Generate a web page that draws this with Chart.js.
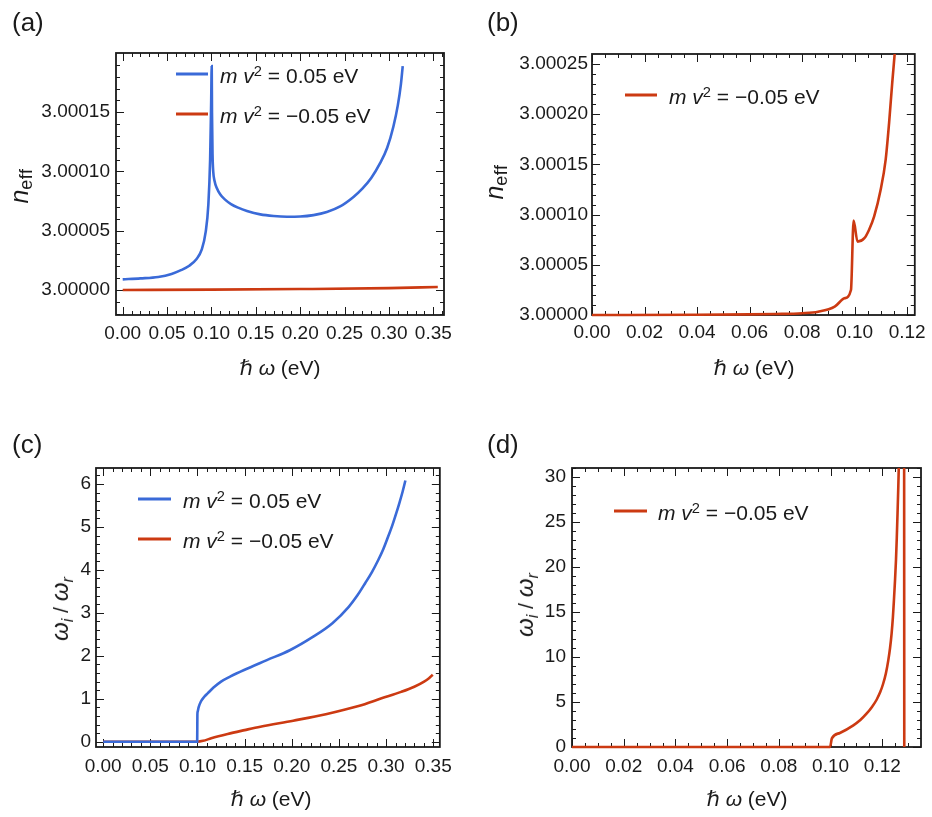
<!DOCTYPE html>
<html>
<head>
<meta charset="utf-8">
<script src="https://cdn.jsdelivr.net/npm/chart.js@4.4.1/dist/chart.umd.min.js"></script>
<style>
    body { margin: 0; background: #fff; }
    #fig { position: relative; width: 932px; height: 817px; overflow: hidden;
           font-family: "Liberation Sans", Arial, sans-serif; color: #1a1a1a; }
    #fig canvas { position: absolute; }
    .tag { position: absolute; font-size: 26px; line-height: 1; }
    .xt, .yt { position: absolute; font-size: 21px; line-height: 1; white-space: nowrap; }
    .xt { transform: translate(-50%, -50%); }
    .yt { transform: translate(-50%, -50%) rotate(-90deg); }
    .leg { position: absolute; font-size: 21px; line-height: 1; white-space: nowrap; transform: translateY(-50%); }
    .sw { position: absolute; height: 3px; transform: translateY(-50%); }
    .it { font-style: italic; }
    .sup { position: relative; top: -0.45em; font-size: 0.7em; }
    .sub { position: relative; top: 0.3em; font-size: 0.68em; }
    .hb { font-family: "DejaVu Sans", "Liberation Sans", sans-serif; font-style: italic; }
    .ne { font-style: italic; font-size: 25px; }
    .ef { position: relative; top: 0.22em; font-size: 18px; letter-spacing: 0.5px; }
    .om { font-style: italic; font-size: 24px; }
    .oi { position: relative; top: 0.3em; font-size: 16px; font-style: italic; }
</style>
</head>
<body>
<div id="fig">
    <canvas id="ca"></canvas>
    <canvas id="cb"></canvas>
    <canvas id="cc"></canvas>
    <canvas id="cd"></canvas>

    <div class="tag" style="left:12px;top:9px">(a)</div>
    <div class="tag" style="left:487px;top:9px">(b)</div>
    <div class="tag" style="left:12px;top:431px">(c)</div>
    <div class="tag" style="left:487px;top:431px">(d)</div>

    <!-- axis titles -->
    <div class="xt" style="left:280px;top:368px"><span class="hb">ℏ</span> <span class="it">ω</span> (eV)</div>
    <div class="xt" style="left:754px;top:368px"><span class="hb">ℏ</span> <span class="it">ω</span> (eV)</div>
    <div class="xt" style="left:271px;top:799px"><span class="hb">ℏ</span> <span class="it">ω</span> (eV)</div>
    <div class="xt" style="left:747px;top:799px"><span class="hb">ℏ</span> <span class="it">ω</span> (eV)</div>

    <div class="yt" style="left:19px;top:186px"><span class="ne">n</span><span class="ef">eff</span></div>
    <div class="yt" style="left:494px;top:182px"><span class="ne">n</span><span class="ef">eff</span></div>
    <div class="yt" style="left:60px;top:609px"><span class="om">ω</span><span class="oi">i</span> / <span class="om">ω</span><span class="oi">r</span></div>
    <div class="yt" style="left:525px;top:605px"><span class="om">ω</span><span class="oi">i</span> / <span class="om">ω</span><span class="oi">r</span></div>

    <!-- legends -->
    <div class="sw" style="left:176px;top:74px;width:32px;background:#3a6ad8"></div>
    <div class="leg" style="left:220px;top:75px"><span class="it">m</span> <span class="it">v</span><span class="sup">2</span> = 0.05 eV</div>
    <div class="sw" style="left:176px;top:114px;width:32px;background:#cc3a12"></div>
    <div class="leg" style="left:220px;top:115px"><span class="it">m</span> <span class="it">v</span><span class="sup">2</span> = −0.05 eV</div>

    <div class="sw" style="left:625px;top:95px;width:32px;background:#cc3a12"></div>
    <div class="leg" style="left:669px;top:96px"><span class="it">m</span> <span class="it">v</span><span class="sup">2</span> = −0.05 eV</div>

    <div class="sw" style="left:138px;top:499px;width:33px;background:#3a6ad8"></div>
    <div class="leg" style="left:183px;top:500px"><span class="it">m</span> <span class="it">v</span><span class="sup">2</span> = 0.05 eV</div>
    <div class="sw" style="left:138px;top:539px;width:33px;background:#cc3a12"></div>
    <div class="leg" style="left:183px;top:540px"><span class="it">m</span> <span class="it">v</span><span class="sup">2</span> = −0.05 eV</div>

    <div class="sw" style="left:614px;top:511px;width:33px;background:#cc3a12"></div>
    <div class="leg" style="left:658px;top:512px"><span class="it">m</span> <span class="it">v</span><span class="sup">2</span> = −0.05 eV</div>
</div>

<script>
const BLUE = '#3a6ad8';
const RED = '#cc3a12';
const INK = '#1a1a1a';
const FONT = '"Liberation Sans", Arial, sans-serif';

// (a) n_eff vs ħω
const aXTicks = [0, 0.05, 0.10, 0.15, 0.20, 0.25, 0.30, 0.35];
const aYTicks = [3.00000, 3.00005, 3.00010, 3.00015];
const aBlueX = [0, 0.02, 0.04, 0.055, 0.065, 0.075, 0.083, 0.089, 0.0935, 0.0965, 0.0985, 0.0997, 0.1003,
                0.1006, 0.1012, 0.102, 0.1035, 0.106, 0.110, 0.115, 0.122, 0.130, 0.140, 0.155, 0.170,
                0.185, 0.200, 0.215, 0.230, 0.245, 0.260, 0.270, 0.280, 0.290, 0.298, 0.305, 0.310,
                0.3135, 0.3155];
const aBlueY = [3.0000090, 3.0000098, 3.0000110, 3.0000135, 3.0000165, 3.0000205, 3.0000260,
                3.0000340, 3.0000490, 3.0000720, 3.0001100, 3.0001600, 3.0001890,
                3.0001500, 3.0001150, 3.0001000, 3.0000920, 3.0000860, 3.0000805, 3.0000765,
                3.0000725, 3.0000695, 3.0000667, 3.0000638, 3.0000624, 3.0000618, 3.0000620,
                3.0000632, 3.0000658, 3.0000705, 3.0000785, 3.0000855, 3.0000945, 3.0001070,
                3.0001200, 3.0001380, 3.0001560, 3.0001740, 3.0001890];
const aRedX = [0, 0.10, 0.20, 0.30, 0.355];
const aRedY = [3.0000000, 3.0000003, 3.0000008, 3.0000016, 3.0000025];

// (b) n_eff, m v^2 = -0.05 eV, close-up
const bXTicks = [0, 0.02, 0.04, 0.06, 0.08, 0.10, 0.12];
const bYTicks = [3.00000, 3.00005, 3.00010, 3.00015, 3.00020, 3.00025];
const bRedX = [0, 0.04, 0.06, 0.07, 0.08, 0.0861, 0.0924, 0.0961, 0.0986, 0.0996, 0.1011,
               0.1037, 0.1055, 0.1074, 0.1099, 0.1118, 0.1131, 0.1143, 0.1153];
const bRedY = [3.0000000, 3.0000002, 3.0000006, 3.0000010, 3.0000018, 3.0000033, 3.0000083,
               3.0000166, 3.0000249, 3.0000940, 3.0000731, 3.0000765, 3.0000850, 3.0000980,
               3.0001247, 3.0001546, 3.0001910, 3.0002310, 3.0002620];

// (c) ω_i / ω_r
const cXTicks = [0, 0.05, 0.10, 0.15, 0.20, 0.25, 0.30, 0.35];
const cYTicks = [0, 1, 2, 3, 4, 5, 6];
const cBlueX = [0, 0.0997, 0.0999, 0.1002, 0.1012, 0.1035, 0.107, 0.111, 0.117, 0.125, 0.135,
                0.1494, 0.1736, 0.1979, 0.2223, 0.2431, 0.2604, 0.270, 0.2778, 0.285, 0.2917,
                0.297, 0.3021, 0.3065, 0.3108, 0.314, 0.3175, 0.3205];
const cBlueY = [0, 0, 0.62, 0.70, 0.80, 0.93, 1.04, 1.13, 1.26, 1.40, 1.52,
                1.67, 1.90, 2.13, 2.44, 2.76, 3.14, 3.42, 3.69, 3.95, 4.23,
                4.48, 4.77, 5.03, 5.32, 5.55, 5.82, 6.08];
const cRedX = [0, 0.100, 0.106, 0.1146, 0.132, 0.150, 0.1667, 0.2015, 0.2361, 0.2708, 0.2952,
               0.316, 0.3299, 0.3403, 0.3455, 0.3495];
const cRedY = [0, 0, 0.02, 0.08, 0.18, 0.27, 0.35, 0.49, 0.64, 0.83, 1.01,
               1.16, 1.28, 1.40, 1.48, 1.56];

// (d) ω_i / ω_r, m v^2 = -0.05 eV, close-up (pole near 0.127)
const dXTicks = [0, 0.02, 0.04, 0.06, 0.08, 0.10, 0.12];
const dYTicks = [0, 5, 10, 15, 20, 25, 30];
const dRedX = [0, 0.0998, 0.1005, 0.1036, 0.1088, 0.1115, 0.1139, 0.116, 0.1178, 0.1192, 0.1203,
               0.1214, 0.1223, 0.123, 0.1236, 0.1241, 0.1245, 0.1249, 0.1253, 0.1256, 0.1259,
               0.1262, 0.1265, 0.1275, 0.12845, 0.1285];
const dRedY = [0, 0, 0.95, 1.56, 2.41, 3.0, 3.7, 4.45, 5.25, 6.1, 7.0,
               8.2, 9.6, 11.0, 12.6, 14.4, 16.3, 18.4, 20.8, 23.2, 26.0,
               29.0, 32.5, null, 32, 0];

const pts = (xs, ys) => xs.map((x, i) => ({ x, y: ys[i] }));

// frame with inward major/minor ticks on all four sides
const frameTicks = {
    id: 'frameTicks',
    beforeDatasetsDraw(chart, args, opts) {
        const { ctx, chartArea: a } = chart;
        const sx = chart.scales.x, sy = chart.scales.y;
        ctx.save();
        ctx.strokeStyle = INK;
        ctx.lineWidth = 1;
        ctx.beginPath();
        const tickX = (v, len) => {
            const p = Math.round(sx.getPixelForValue(v)) + 0.5;
            ctx.moveTo(p, a.bottom); ctx.lineTo(p, a.bottom - len);
            ctx.moveTo(p, a.top); ctx.lineTo(p, a.top + len);
        };
        const tickY = (v, len) => {
            const p = Math.round(sy.getPixelForValue(v)) + 0.5;
            ctx.moveTo(a.left, p); ctx.lineTo(a.left + len, p);
            ctx.moveTo(a.right, p); ctx.lineTo(a.right - len, p);
        };
        for (let k = Math.ceil(sx.min / opts.xMinor - 1e-6); k * opts.xMinor <= sx.max; k++) tickX(k * opts.xMinor, 4);
        for (let k = Math.ceil(sy.min / opts.yMinor - 1e-6); k * opts.yMinor <= sy.max; k++) tickY(k * opts.yMinor, 4);
        sx.ticks.forEach(t => tickX(t.value, 8));
        sy.ticks.forEach(t => tickY(t.value, 8));
        ctx.stroke();
        ctx.lineWidth = 1.8;
        ctx.strokeRect(a.left, a.top, a.right - a.left, a.bottom - a.top);
        ctx.restore();
    },
};

function makePanel(id, box, frame, sc, series) {
    const canvas = document.getElementById(id);
    canvas.width = box.w;
    canvas.height = box.h;
    canvas.style.left = box.left + 'px';
    canvas.style.top = box.top + 'px';

    const tickFont = { family: FONT, size: 19 };
    return new Chart(canvas, {
        type: 'line',
        data: {
            datasets: series.map(s => ({
                data: s.data,
                borderColor: s.color,
                borderWidth: 2.6,
                pointRadius: 0,
                fill: false,
                cubicInterpolationMode: 'monotone',
                spanGaps: false,
                clip: { left: 3, bottom: 3, top: 0, right: 0 },
            })),
        },
        options: {
            responsive: false,
            animation: false,
            events: [],
            layout: { padding: { top: frame.t, right: box.w - frame.r, left: 0, bottom: 0 } },
            plugins: {
                legend: { display: false },
                tooltip: { enabled: false },
                frameTicks: { xMinor: sc.xMinor, yMinor: sc.yMinor },
            },
            scales: {
                x: {
                    type: 'linear',
                    min: sc.xMin, max: sc.xMax,
                    afterBuildTicks: s => { s.ticks = sc.xTicks.map(v => ({ value: v })); },
                    afterFit: s => { s.height = box.h - frame.b; },
                    grid: { display: false, drawTicks: false },
                    border: { display: false },
                    ticks: {
                        autoSkip: false, maxRotation: 0, padding: sc.xPad,
                        color: INK, font: tickFont,
                        callback: v => v.toFixed(2),
                    },
                },
                y: {
                    type: 'linear',
                    min: sc.yMin, max: sc.yMax,
                    afterBuildTicks: s => { s.ticks = sc.yTicks.map(v => ({ value: v })); },
                    afterFit: s => { s.width = frame.l; },
                    grid: { display: false, drawTicks: false },
                    border: { display: false },
                    ticks: {
                        autoSkip: false, padding: sc.yPad,
                        color: INK, font: tickFont,
                        callback: v => v.toFixed(sc.yDigits),
                    },
                },
            },
        },
        plugins: [frameTicks],
    });
}

makePanel('ca', { left: 0, top: 0, w: 460, h: 400 }, { l: 116, t: 53, r: 444, b: 315 },
    { xMin: -0.00755, xMax: 0.3620, yMin: 2.9999789, yMax: 3.0002,
      xTicks: aXTicks, yTicks: aYTicks, xMinor: 0.01, yMinor: 0.00001, xPad: 7, yPad: 6, yDigits: 5 },
    [{ data: pts(aBlueX, aBlueY), color: BLUE }, { data: pts(aRedX, aRedY), color: RED }]);

makePanel('cb', { left: 460, top: 0, w: 472, h: 400 }, { l: 132, t: 54, r: 458, b: 315 },
    { xMin: 0, xMax: 0.1229, yMin: 3.0, yMax: 3.00026,
      xTicks: bXTicks, yTicks: bYTicks, xMinor: 0.005, yMinor: 0.00001, xPad: 6, yPad: 4, yDigits: 5 },
    [{ data: pts(bRedX, bRedY), color: RED }]);

makePanel('cc', { left: 0, top: 410, w: 460, h: 407 }, { l: 96, t: 58, r: 446, b: 337 },
    { xMin: -0.0076, xMax: 0.3570, yMin: -0.123, yMax: 6.372,
      xTicks: cXTicks, yTicks: cYTicks, xMinor: 0.01, yMinor: 0.2, xPad: 8, yPad: 5, yDigits: 0 },
    [{ data: pts(cBlueX, cBlueY), color: BLUE }, { data: pts(cRedX, cRedY), color: RED }]);

makePanel('cd', { left: 460, top: 410, w: 472, h: 407 }, { l: 112, t: 58, r: 461, b: 337 },
    { xMin: 0, xMax: 0.13497, yMin: 0, yMax: 31,
      xTicks: dXTicks, yTicks: dYTicks, xMinor: 0.005, yMinor: 1, xPad: 8, yPad: 6, yDigits: 0 },
    [{ data: pts(dRedX, dRedY), color: RED }]);
</script>
</body>
</html>
